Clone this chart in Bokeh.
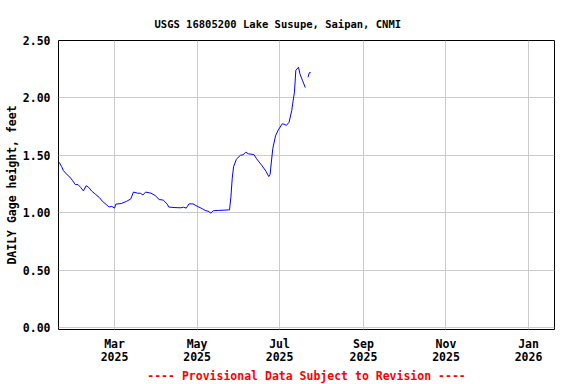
import numpy as np
import pandas as pd
from bokeh.plotting import figure
from bokeh.models import Range1d, FixedTicker, NumeralTickFormatter, Title
from bokeh.embed import file_html
from bokeh.resources import INLINE

title_text = "USGS 16805200 Lake Susupe, Saipan, CNMI"
y_label_text = "DAILY Gage height, feet"
footer_text = "---- Provisional Data Subject to Revision ----"

dates = [
    "2025-01-19", "2025-01-21", "2025-01-22", "2025-01-25", "2025-01-27", "2025-01-29",
    "2025-01-31", "2025-02-02", "2025-02-04", "2025-02-06", "2025-02-08", "2025-02-10",
    "2025-02-12", "2025-02-15", "2025-02-18", "2025-02-20", "2025-02-23", "2025-02-25",
    "2025-02-27", "2025-03-01", "2025-03-02", "2025-03-06", "2025-03-10", "2025-03-13",
    "2025-03-15", "2025-03-18", "2025-03-20", "2025-03-22", "2025-03-24", "2025-03-28",
    "2025-03-31", "2025-04-03", "2025-04-06", "2025-04-09", "2025-04-10", "2025-04-14",
    "2025-04-19", "2025-04-21", "2025-04-23", "2025-04-25", "2025-04-28", "2025-05-01",
    "2025-05-05", "2025-05-07", "2025-05-10", "2025-05-11", "2025-05-13", "2025-05-17",
    "2025-05-25", "2025-05-26", "2025-05-27", "2025-05-28", "2025-05-30", "2025-06-02",
    "2025-06-04", "2025-06-06", "2025-06-08", "2025-06-12", "2025-06-14", "2025-06-18",
    "2025-06-21", "2025-06-23", "2025-06-24", "2025-06-25", "2025-06-26", "2025-06-28",
    "2025-06-30", "2025-07-03", "2025-07-05", "2025-07-06", "2025-07-08", "2025-07-10",
    "2025-07-11", "2025-07-12", "2025-07-13", "2025-07-15", "2025-07-16", "2025-07-18",
    "2025-07-20", "2025-07-21", "2025-07-22", "2025-07-23", "2025-07-24",
]
gage_ft = [
    1.44, 1.40, 1.37, 1.33, 1.31, 1.28,
    1.245, 1.245, 1.22, 1.19, 1.235, 1.22,
    1.19, 1.16, 1.13, 1.10, 1.07, 1.05,
    1.055, 1.04, 1.075, 1.08, 1.10, 1.12,
    1.18, 1.17, 1.17, 1.155, 1.18, 1.17,
    1.15, 1.115, 1.11, 1.075, 1.05, 1.045,
    1.043, 1.048, 1.04, 1.077, 1.077, 1.057,
    1.034, 1.02, 1.01, 0.996, 1.017, 1.02,
    1.025, 1.135, 1.30, 1.40, 1.465, 1.50,
    1.505, 1.527, 1.513, 1.507, 1.47, 1.41,
    1.36, 1.315, 1.335, 1.45, 1.56, 1.67,
    1.72, 1.775, 1.768, 1.76, 1.788, 1.89,
    1.975, 2.05, 2.24, 2.267, 2.21, 2.15,
    2.09, np.nan, 2.18, 2.22, 2.22,
]

x_tick_dates = ["2025-03-01", "2025-05-01", "2025-07-01", "2025-09-01", "2025-11-01", "2026-01-01"]
x_tick_labels = ["Mar\n2025", "May\n2025", "Jul\n2025", "Sep\n2025", "Nov\n2025", "Jan\n2026"]
y_ticks = [0.0, 0.5, 1.0, 1.5, 2.0, 2.5]

FONT = "DejaVu Sans Mono"

x = pd.to_datetime(dates)
x_start = pd.Timestamp("2025-01-18 14:00")
x_end = pd.Timestamp("2026-01-20 05:00")

p = figure(
    width=576, height=384,
    x_axis_type="datetime",
    x_range=Range1d(x_start, x_end),
    y_range=Range1d(-0.017, 2.5),
    output_backend="svg", toolbar_location=None,
    min_border_left=58, min_border_right=22, min_border_top=40, min_border_bottom=55,
)
p.background_fill_color = "white"
p.border_fill_color = "white"
p.outline_line_color = "black"
p.outline_line_width = 1

p.line(x, gage_ft, line_color="#0000ff", line_width=1)

tick_ms = [pd.Timestamp(d).value / 1e6 for d in x_tick_dates]
p.xaxis.ticker = FixedTicker(ticks=tick_ms)
p.xaxis.major_label_overrides = {t: lab for t, lab in zip(tick_ms, x_tick_labels)}
p.yaxis.ticker = FixedTicker(ticks=y_ticks)
p.yaxis.formatter = NumeralTickFormatter(format="0.00")

for ax in (p.xaxis[0], p.yaxis[0]):
    ax.axis_line_color = None
    ax.major_tick_line_color = None
    ax.minor_tick_line_color = None
    ax.major_tick_out = 0
    ax.major_tick_in = 0
    ax.minor_tick_out = 0
    ax.minor_tick_in = 0
    ax.major_label_text_font = FONT
    ax.major_label_text_font_style = "bold"
    ax.major_label_text_font_size = "11.5px"
    ax.major_label_text_color = "black"
p.yaxis.major_label_standoff = 8
p.xaxis.major_label_standoff = 7
p.xaxis.major_label_text_line_height = 0.95

p.yaxis.axis_label = y_label_text
p.yaxis.axis_label_text_font = FONT
p.yaxis.axis_label_text_font_style = "bold"
p.yaxis.axis_label_text_font_size = "11.5px"
p.yaxis.axis_label_text_color = "black"
p.yaxis.axis_label_standoff = 1

p.xgrid.grid_line_color = "#cccccc"
p.ygrid.grid_line_color = "#cccccc"
p.xgrid.grid_line_width = 1
p.ygrid.grid_line_width = 1

p.title.text = title_text
p.title.text_font = FONT
p.title.text_font_style = "bold"
p.title.text_font_size = "10.5px"
p.title.text_color = "black"
p.title.align = "left"
p.title.offset = 96
p.title.standoff = 22

footer = Title(text=footer_text, align="center", text_font=FONT, text_font_style="bold",
               text_font_size="11.5px", text_color="#ff0000", standoff=0)
p.add_layout(footer, "below")

open("out.html", "w").write(file_html(p, INLINE))
